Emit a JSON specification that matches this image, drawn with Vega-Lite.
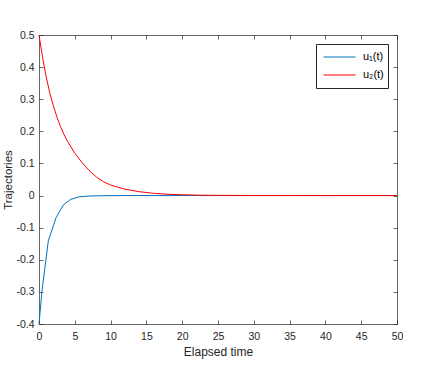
{
  "$schema": "https://vega.github.io/schema/vega-lite/v6.json",
  "width": 358,
  "height": 289,
  "autosize": {"type": "none"},
  "padding": {"left": 39, "top": 35, "right": 40, "bottom": 58},
  "background": "white",
  "view": {"stroke": null},
  "config": {
    "font": "Liberation Sans",
    "axis": {
      "grid": false,
      "domainColor": "#262626",
      "domainWidth": 0.7,
      "tickColor": "#262626",
      "tickWidth": 0.7,
      "tickSize": -4,
      "labelColor": "#262626",
      "titleColor": "#262626",
      "labelFont": "Liberation Sans",
      "titleFont": "Liberation Sans",
      "labelFontSize": 10.5,
      "titleFontSize": 12,
      "titleFontWeight": "normal"
    }
  },
  "data": {
    "values": [
      {"t": 0, "v": -0.4, "s": "u₁(t)"},
      {"t": 0.4, "v": -0.3, "s": "u₁(t)"},
      {"t": 1.3, "v": -0.141, "s": "u₁(t)"},
      {"t": 2.4, "v": -0.068, "s": "u₁(t)"},
      {"t": 3.4, "v": -0.029, "s": "u₁(t)"},
      {"t": 4.4, "v": -0.012, "s": "u₁(t)"},
      {"t": 5.6, "v": -0.004, "s": "u₁(t)"},
      {"t": 7, "v": -0.0015, "s": "u₁(t)"},
      {"t": 9, "v": -0.0004, "s": "u₁(t)"},
      {"t": 12, "v": -0.0001, "s": "u₁(t)"},
      {"t": 16, "v": 0, "s": "u₁(t)"},
      {"t": 20, "v": 0, "s": "u₁(t)"},
      {"t": 25, "v": 0, "s": "u₁(t)"},
      {"t": 30, "v": 0, "s": "u₁(t)"},
      {"t": 40, "v": 0, "s": "u₁(t)"},
      {"t": 50, "v": 0, "s": "u₁(t)"},
      {"t": 0, "v": 0.5, "s": "u₂(t)"},
      {"t": 0.5, "v": 0.43, "s": "u₂(t)"},
      {"t": 1, "v": 0.37, "s": "u₂(t)"},
      {"t": 1.5, "v": 0.32, "s": "u₂(t)"},
      {"t": 2, "v": 0.28, "s": "u₂(t)"},
      {"t": 2.5, "v": 0.245, "s": "u₂(t)"},
      {"t": 3, "v": 0.215, "s": "u₂(t)"},
      {"t": 3.5, "v": 0.19, "s": "u₂(t)"},
      {"t": 4, "v": 0.168, "s": "u₂(t)"},
      {"t": 5, "v": 0.132, "s": "u₂(t)"},
      {"t": 6, "v": 0.103, "s": "u₂(t)"},
      {"t": 7, "v": 0.078, "s": "u₂(t)"},
      {"t": 8, "v": 0.058, "s": "u₂(t)"},
      {"t": 9, "v": 0.043, "s": "u₂(t)"},
      {"t": 10, "v": 0.033, "s": "u₂(t)"},
      {"t": 11, "v": 0.026, "s": "u₂(t)"},
      {"t": 12, "v": 0.02, "s": "u₂(t)"},
      {"t": 14, "v": 0.012, "s": "u₂(t)"},
      {"t": 16, "v": 0.007, "s": "u₂(t)"},
      {"t": 18, "v": 0.004, "s": "u₂(t)"},
      {"t": 20, "v": 0.0025, "s": "u₂(t)"},
      {"t": 23, "v": 0.001, "s": "u₂(t)"},
      {"t": 26, "v": 0.0005, "s": "u₂(t)"},
      {"t": 30, "v": 0.0002, "s": "u₂(t)"},
      {"t": 35, "v": 0.0001, "s": "u₂(t)"},
      {"t": 40, "v": 0, "s": "u₂(t)"},
      {"t": 50, "v": 0, "s": "u₂(t)"}
    ]
  },
  "layer": [
    {
      "mark": {"type": "line", "strokeWidth": 1},
      "encoding": {
        "x": {
          "field": "t", "type": "quantitative",
          "scale": {"domain": [0, 50], "nice": false, "zero": false},
          "axis": {"orient": "bottom", "values": [0,5,10,15,20,25,30,35,40,45,50], "title": "Elapsed time", "labelPadding": 11, "titlePadding": 5, "labelFlush": false}
        },
        "y": {
          "field": "v", "type": "quantitative",
          "scale": {"domain": [-0.4, 0.5], "nice": false, "zero": false},
          "axis": {"orient": "left", "values": [-0.4,-0.3,-0.2,-0.1,0,0.1,0.2,0.3,0.4,0.5], "title": "Trajectories", "titleFontSize": 11.5, "labelPadding": 9, "titlePadding": 2, "labelFlush": false, "labelExpr": "replace(format(datum.value, '.1~f'), '\u2212', '-')"}
        },
        "color": {
          "field": "s", "type": "nominal",
          "scale": {"domain": ["u₁(t)", "u₂(t)"], "range": ["#0072BD", "#FF0000"]},
          "legend": {
            "orient": "none", "legendX": 277, "legendY": 9,
            "title": null,
            "symbolType": "stroke", "symbolSize": 1024, "symbolStrokeWidth": 1,
            "clipHeight": 18, "rowPadding": 0,
            "padding": 4, "symbolOffset": 3, "labelOffset": 7,
            "labelFontSize": 11, "labelColor": "#000000", "labelFont": "Liberation Sans",
            "strokeColor": "#262626", "fillColor": "white"
          }
        },
        "order": {"field": "t", "type": "quantitative"}
      }
    },
    {
      "mark": {"type": "line", "opacity": 0},
      "encoding": {
        "x": {
          "field": "t", "type": "quantitative",
          "axis": {"orient": "top", "values": [0,5,10,15,20,25,30,35,40,45,50], "labels": false, "title": null}
        },
        "y": {
          "field": "v", "type": "quantitative",
          "axis": {"orient": "right", "values": [-0.4,-0.3,-0.2,-0.1,0,0.1,0.2,0.3,0.4,0.5], "labels": false, "title": null}
        },
        "detail": {"field": "s"}
      }
    }
  ],
  "resolve": {"axis": {"x": "independent", "y": "independent"}}
}
